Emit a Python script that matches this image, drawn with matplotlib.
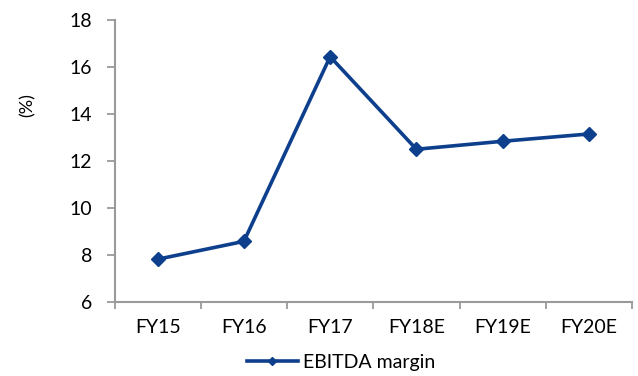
import matplotlib.pyplot as plt
import numpy as np

years = ["FY15", "FY16", "FY17", "FY18E", "FY19E", "FY20E"]
ebitda_margin = [7.82, 8.58, 16.44, 12.50, 12.84, 13.15]

plt.rcParams["font.family"] = ["Lato", "DejaVu Sans"]

line_color = "#0d3f8c"
axis_color = "#9a9a9a"

fig = plt.figure(figsize=(6.38, 3.76), dpi=100)
ax = fig.add_axes([0.1795, 0.1968, 0.8111, 0.75])

x = np.arange(len(years))
ax.plot(x, ebitda_margin, color=line_color, lw=2.6, marker="D", ms=7,
        label="EBITDA margin")

ax.set_xlim(-0.5, len(years) - 0.5)
ax.set_ylim(6, 18)
ax.set_yticks(range(6, 19, 2))
ax.set_xticks(x)
ax.set_xticklabels(years)
# category boundaries carry the x tick marks
ax.set_xticks(np.arange(-0.5, len(years)), minor=True)
ax.tick_params(axis="x", which="major", length=0, pad=12, labelsize=14)
ax.tick_params(axis="x", which="minor", length=5, width=1.3, color=axis_color)
ax.tick_params(axis="y", length=6, width=1.3, color=axis_color, pad=10,
               labelsize=14)

for side in ["top", "right"]:
    ax.spines[side].set_visible(False)
for side in ["left", "bottom"]:
    ax.spines[side].set_color(axis_color)
    ax.spines[side].set_linewidth(1.5)

fig.text(0.043, 0.72, "(%)", rotation=90, ha="center", va="center",
         fontsize=13)

fig.legend(loc="center", bbox_to_anchor=(0.535, 0.037), frameon=False,
           fontsize=14, handlelength=2.6, handletextpad=0.3, borderpad=0,
           markerscale=0.65)

fig.savefig("out.png", dpi=100)
